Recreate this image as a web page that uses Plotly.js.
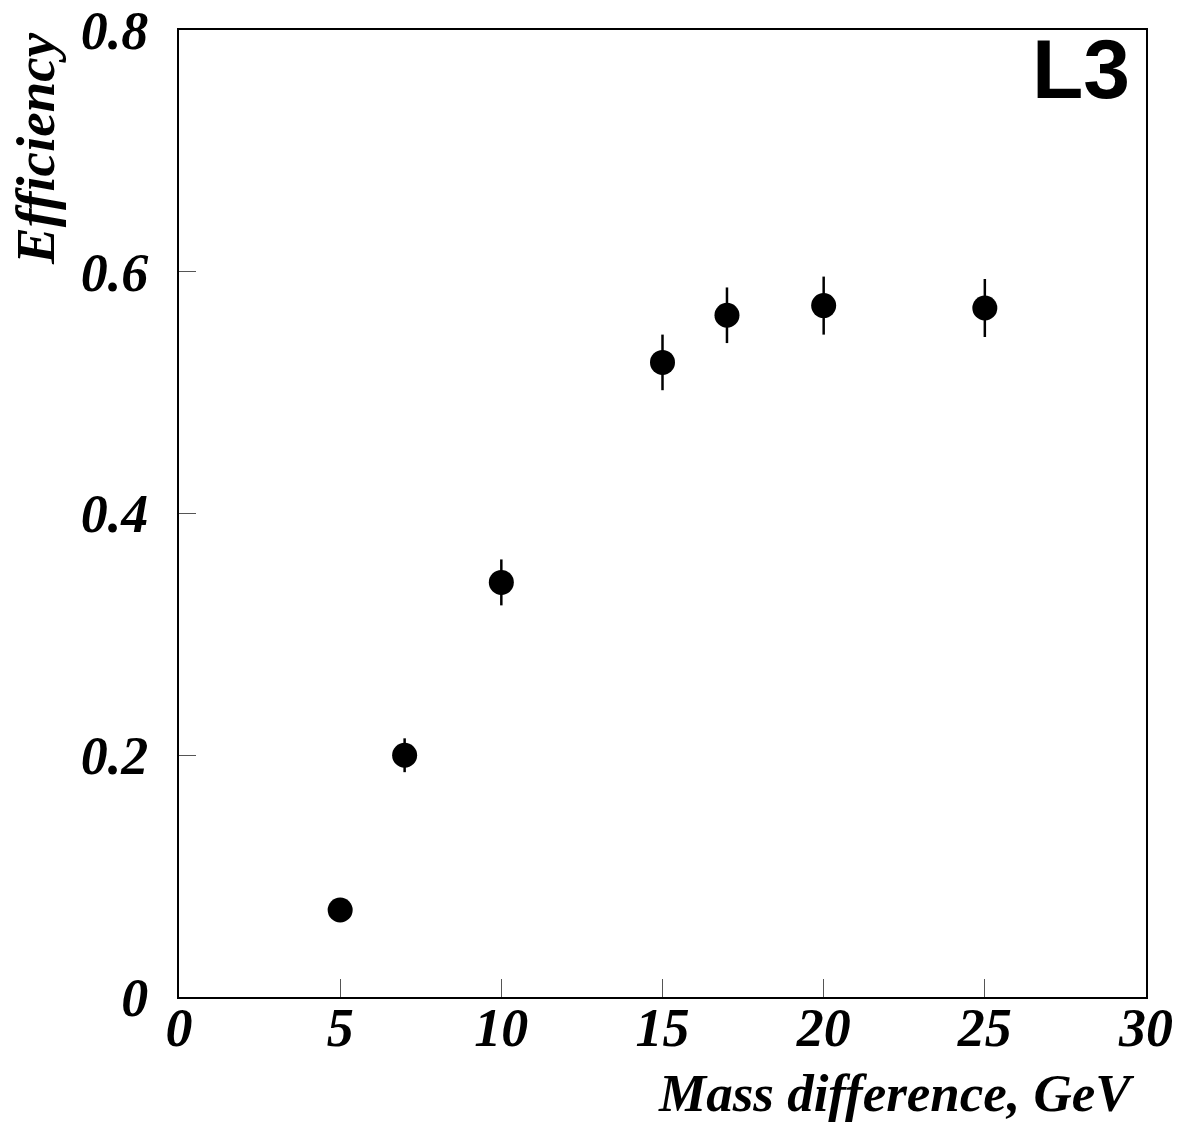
<!DOCTYPE html>
<html>
<head>
<meta charset="utf-8">
<script src="https://cdn.plot.ly/plotly-3.0.1.min.js"></script>
<style>html,body{margin:0;padding:0;background:#fff;}</style>
</head>
<body>
<div id="chart" style="width:1178px;height:1126px;"></div>
<script>
const massDiff = [5, 7, 10, 15, 17, 20, 25];
const efficiency = [0.072, 0.200, 0.343, 0.525, 0.564, 0.572, 0.570];
const efficiencyErr = [0.0, 0.014, 0.019, 0.023, 0.023, 0.024, 0.024];
const xTicks = [0, 5, 10, 15, 20, 25, 30];
const yTicks = [0, 0.2, 0.4, 0.6, 0.8];

const tickFont = {family: 'Liberation Serif, Times New Roman, serif', size: 54, color: '#000', weight: 'bold', style: 'italic'};
const titleFont = {family: 'Liberation Serif, Times New Roman, serif', size: 53, color: '#000', weight: 'bold', style: 'italic'};
const yTitleFont = {family: 'Liberation Serif, Times New Roman, serif', size: 55, color: '#000', weight: 'bold', style: 'italic'};

const trace = {
  x: massDiff,
  y: efficiency,
  mode: 'markers',
  type: 'scatter',
  marker: {color: '#000', size: 25},
  error_y: {type: 'data', array: efficiencyErr, visible: true, color: '#000', thickness: 2.5, width: 0},
  showlegend: false
};

const layout = {
  width: 1178, height: 1126,
  margin: {l: 179, r: 32, t: 30, b: 129},
  paper_bgcolor: '#fff', plot_bgcolor: '#fff',
  xaxis: {
    range: [0, 30], tickvals: xTicks, ticktext: xTicks.map(String),
    ticks: 'inside', ticklen: 18, tickwidth: 1, tickcolor: '#555',
    showline: true, linecolor: '#000', linewidth: 2, mirror: true,
    showgrid: false, zeroline: false, tickfont: tickFont, ticklabelstandoff: -18
  },
  yaxis: {
    range: [0, 0.8], tickvals: yTicks, ticktext: yTicks.map(v => v === 0 ? '0' : String(v)),
    ticks: 'inside', ticklen: 17, tickwidth: 1, tickcolor: '#555',
    showline: true, linecolor: '#000', linewidth: 2, mirror: true,
    showgrid: false, zeroline: false, tickfont: tickFont, ticklabelstandoff: 18
  },
  annotations: [
    {text: 'L3', xref: 'paper', yref: 'paper', x: 0.986, y: 0.96, xanchor: 'right', yanchor: 'middle', showarrow: false,
     font: {family: 'Liberation Sans, Arial, sans-serif', size: 84, color: '#000', weight: 'bold'}},
    {text: 'Mass difference, GeV', xref: 'paper', yref: 'paper', x: 0.99, y: 0, yshift: -96, xanchor: 'right', yanchor: 'middle', showarrow: false,
     font: titleFont},
    {text: 'Efficiency', xref: 'paper', yref: 'paper', x: 0, xshift: -176, y: 1, yanchor: 'top', xanchor: 'middle', showarrow: false, textangle: -90,
     font: yTitleFont}
  ]
};

Plotly.newPlot('chart', [trace], layout, {displayModeBar: false, staticPlot: true});
</script>
</body>
</html>
